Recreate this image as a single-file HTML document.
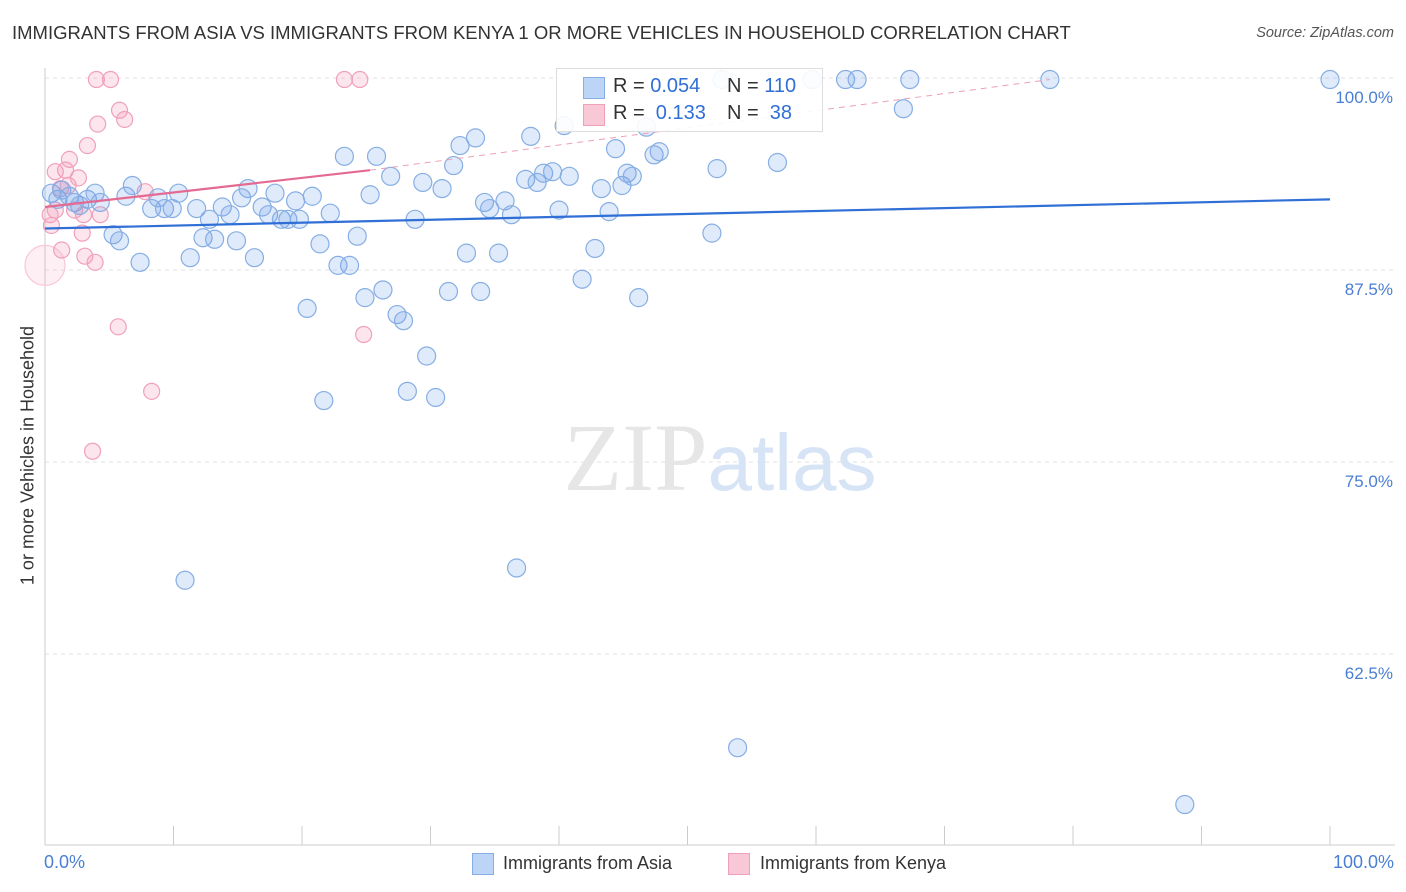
<!DOCTYPE html>
<html><head><meta charset="utf-8">
<style>
body{margin:0;background:#fff;font-family:"Liberation Sans",sans-serif;}
#wrap{position:relative;width:1406px;height:892px;overflow:hidden;}
.title{position:absolute;left:12px;top:22px;font-size:18.5px;color:#333;white-space:nowrap;}
.src{position:absolute;right:12px;top:25px;font-size:14.5px;color:#555;font-style:italic;}
</style></head>
<body>
<div id="wrap">
<div class="title">IMMIGRANTS FROM ASIA VS IMMIGRANTS FROM KENYA 1 OR MORE VEHICLES IN HOUSEHOLD CORRELATION CHART</div>
<div class="src">Source: ZipAtlas.com</div>
<svg id="svg" width="1406" height="892" style="position:absolute;left:0;top:0"></svg>
</div>
<script>
const yTicks=[100,87.5,75,62.5];
const yTickLabels=["100.0%","87.5%","75.0%","62.5%"];
const asiaX=[0.5,1.0,1.3,1.9,2.3,2.7,3.3,3.9,4.3,5.3,5.8,6.3,6.8,7.4,8.3,8.8,9.3,9.9,10.4,11.3,11.8,12.3,12.8,13.2,13.8,14.4,14.9,15.3,15.8,16.3,16.9,17.4,17.9,18.4,18.9,19.5,19.8,20.4,20.8,21.4,21.7,22.2,22.8,23.3,23.7,24.3,24.9,25.3,25.8,26.3,26.9,27.4,27.9,28.2,28.8,29.4,29.7,30.4,30.9,31.4,31.8,32.3,32.8,33.5,33.9,34.2,34.6,35.3,35.8,36.3,36.7,37.4,37.8,38.3,38.8,39.5,40.0,40.4,40.8,41.8,42.8,43.3,43.9,44.4,44.9,45.3,45.7,46.2,46.8,47.4,47.8,51.9,52.3,52.7,53.9,57.0,59.7,62.3,63.2,66.8,67.3,78.2,88.7,100,10.9];
const asiaY=[92.5,92.1,92.7,92.3,91.9,91.7,92.1,92.5,91.9,89.8,89.4,92.3,93.0,88.0,91.5,92.2,91.5,91.5,92.5,88.3,91.5,89.6,90.8,89.5,91.6,91.1,89.4,92.2,92.8,88.3,91.6,91.1,92.5,90.8,90.8,92.0,90.8,85.0,92.3,89.2,79.0,91.2,87.8,94.9,87.8,89.7,85.7,92.4,94.9,86.2,93.6,84.6,84.2,79.6,90.8,93.2,81.9,79.2,92.8,86.1,94.3,95.6,88.6,96.1,86.1,91.9,91.5,88.6,92.0,91.1,68.1,93.4,96.2,93.2,93.8,93.9,91.4,96.9,93.6,86.9,88.9,92.8,91.3,95.4,93.0,93.8,93.6,85.7,96.8,95.0,95.2,89.9,94.1,99.9,56.4,94.5,99.9,99.9,99.9,98.0,99.9,99.9,52.7,99.9,67.3];
const kenyaX=[0,0.4,0.5,0.8,0.8,1.2,1.6,1.8,1.9,2.3,2.6,2.9,3.0,3.1,3.3,3.9,4.1,4.3,4.0,5.1,5.8,6.2,7.8,5.7,8.3,3.7,23.3,24.5,24.8,1.3];
const kenyaY=[87.8,91.1,90.4,91.4,93.9,92.8,94.0,93.0,94.7,91.4,93.5,89.9,91.1,88.4,95.6,88.0,97.0,91.1,99.9,99.9,97.9,97.3,92.6,83.8,79.6,75.7,99.9,99.9,83.3,88.8];
const asiaTrend=[90.2,92.1];
const kenyaTrend=[91.6,94.0,99.9];
const X=v=>45+v*12.85, Y=v=>78+(100-v)*15.36;
const svg=document.getElementById('svg');
const NS='http://www.w3.org/2000/svg';
function mk(t,a,p){const e=document.createElementNS(NS,t);for(const k in a)e.setAttribute(k,a[k]);(p||svg).appendChild(e);return e;}
yTicks.forEach((t,i)=>{
 const g=mk('line',{x1:45,x2:1395,y1:Y(t),y2:Y(t),stroke:'#e2e2e2','stroke-dasharray':'4,4'});
 
 
 const l=mk('text',{x:1393,y:Y(t)+25,'text-anchor':'end','font-size':17,fill:'#4a7fd4','font-family':'Liberation Sans'});
 l.textContent=yTickLabels[i];
 
 
});
const ax=mk('line',{x1:45,x2:45,y1:68,y2:845,stroke:'#ccc'});


const bx=mk('line',{x1:45,x2:1395,y1:845,y2:845,stroke:'#ccc'});


for(let i=0;i<=10;i++){const t=mk('line',{x1:X(i*10),x2:X(i*10),y1:826,y2:845,stroke:'#ccc'});
 
 }
const wm=mk('text',{x:720,y:490,'text-anchor':'middle','font-size':96,fill:'#e6e6e6','font-family':'Liberation Serif'});
wm.innerHTML='ZIP<tspan fill="#d6e4f6" font-family="Liberation Sans" font-size="80">atlas</tspan>';


kenyaX.forEach((x,i)=>{const c=mk('circle',{cx:X(x),cy:Y(kenyaY[i]),r:i===0?20:8,fill:i===0?'rgba(244,150,180,0.15)':'rgba(244,150,180,0.25)',stroke:i===0?'#f8c8d6':'#f0a0bb','stroke-width':1.2});
 
 });
asiaX.forEach((x,i)=>{const c=mk('circle',{cx:X(x),cy:Y(asiaY[i]),r:9,fill:'rgba(110,160,230,0.22)',stroke:'#86aee4','stroke-width':1.2});
 
 });
const at=mk('line',{x1:X(0),y1:Y(asiaTrend[0]),x2:X(100),y2:Y(asiaTrend[1]),stroke:'#2f6fd6','stroke-width':2.2});


const kt=mk('line',{x1:X(0),y1:Y(kenyaTrend[0]),x2:X(25.3),y2:Y(kenyaTrend[1]),stroke:'#e46a92','stroke-width':2.2});


const kd=mk('line',{x1:X(25.3),y1:Y(kenyaTrend[1]),x2:X(78.2),y2:Y(kenyaTrend[2]),stroke:'#eaa0b8','stroke-width':1,'stroke-dasharray':'6,5'});


</script>
<div style="position:absolute;left:556px;top:68px;width:265px;height:62px;border:1px solid #ddd;background:rgba(255,255,255,0.9);font-size:20px;">
 <div style="position:absolute;left:26px;top:8px;width:20px;height:20px;background:#bcd4f6;border:1px solid #86aee4"></div>
 <div style="position:absolute;left:56px;top:6px;color:#333">R = <span style="color:#2f6fd6">0.054</span></div>
 <div style="position:absolute;left:170px;top:6px;color:#333">N = <span style="color:#2f6fd6">110</span></div>
 <div style="position:absolute;left:26px;top:35px;width:20px;height:20px;background:#f8c8d6;border:1px solid #f0a0bb"></div>
 <div style="position:absolute;left:56px;top:33px;color:#333">R = &nbsp;<span style="color:#2f6fd6">0.133</span></div>
 <div style="position:absolute;left:170px;top:33px;color:#333">N = &nbsp;<span style="color:#2f6fd6">38</span></div>
</div>
<div style="position:absolute;left:44px;top:852px;font-size:18px;color:#4a7fd4">0.0%</div>
<div style="position:absolute;right:12px;top:852px;font-size:18px;color:#4a7fd4">100.0%</div>
<div style="position:absolute;left:-132px;top:445px;width:320px;transform:rotate(-90deg);text-align:center;font-size:18px;color:#333;white-space:nowrap">1 or more Vehicles in Household</div>
<div style="position:absolute;left:472px;top:853px;width:20px;height:20px;background:#bcd4f6;border:1px solid #86aee4"></div>
<div style="position:absolute;left:503px;top:853px;font-size:18px;color:#333">Immigrants from Asia</div>
<div style="position:absolute;left:728px;top:853px;width:20px;height:20px;background:#f8c8d6;border:1px solid #f0a0bb"></div>
<div style="position:absolute;left:760px;top:853px;font-size:18px;color:#333">Immigrants from Kenya</div>
</body></html>
